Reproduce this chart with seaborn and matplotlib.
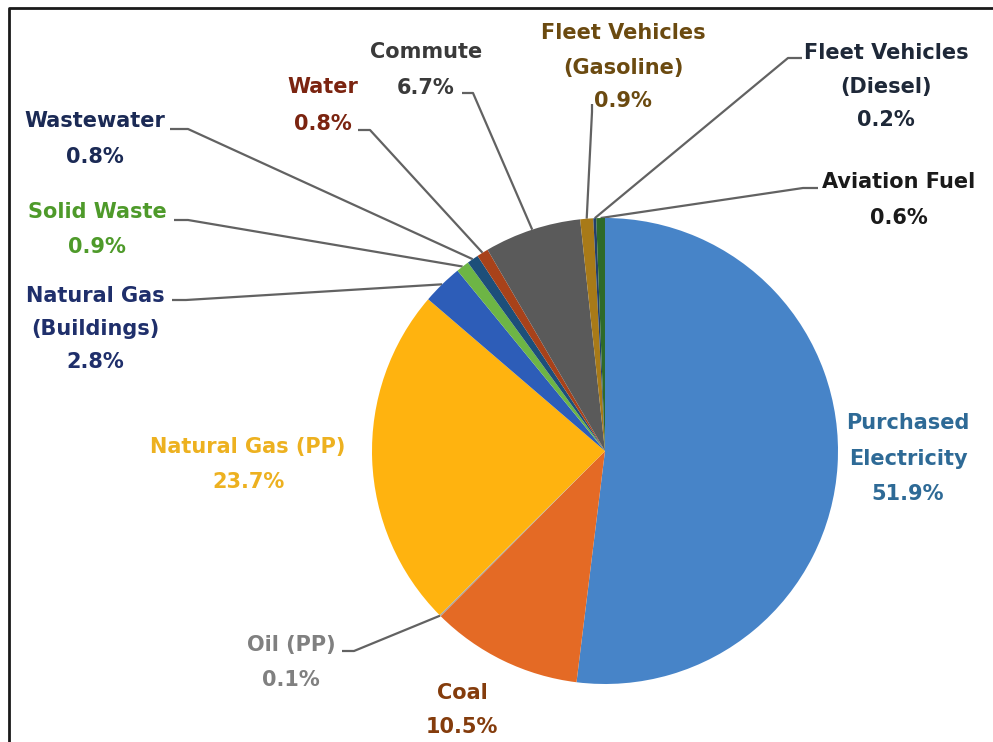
import matplotlib
matplotlib.use("Agg")
import numpy as np
import matplotlib.pyplot as plt
import seaborn as sns

# Emission shares by source (%)
categories = [
    "Purchased Electricity", "Coal", "Oil (PP)", "Natural Gas (PP)",
    "Natural Gas (Buildings)", "Solid Waste", "Wastewater", "Water",
    "Commute", "Fleet Vehicles (Gasoline)", "Fleet Vehicles (Diesel)",
    "Aviation Fuel",
]
shares = [51.9, 10.5, 0.1, 23.7, 2.8, 0.9, 0.8, 0.8, 6.7, 0.9, 0.2, 0.6]
label_lines = [
    ["Purchased", "Electricity"], ["Coal"], ["Oil (PP)"], ["Natural Gas (PP)"],
    ["Natural Gas", "(Buildings)"], ["Solid Waste"], ["Wastewater"], ["Water"],
    ["Commute"], ["Fleet Vehicles", "(Gasoline)"], ["Fleet Vehicles", "(Diesel)"],
    ["Aviation Fuel"],
]

wedge_colors = ["#4784C8", "#E46A25", "#A5A5A5", "#FFB30F", "#2D5DB8", "#6DB545",
                "#1D4F7A", "#A8421A", "#5A5A5A", "#A87A18", "#223F6B", "#2E6A2A"]
text_colors = ["#2E6A96", "#843C0C", "#808080", "#EDB120", "#1F2F6B", "#4E9A2A",
               "#1B2A55", "#7B2410", "#3A3A3A", "#6B4A10", "#1E2838", "#1A1A1A"]

# Label layout in pixel space: x centre, y centre of each line (name lines + value line),
# and leader (anchor, elbow) where the label sits away from its wedge.
W, H = 993, 742
label_x = [908, 462, 291, 248, 95, 97, 95, 323, 426, 623, 886, 899]
label_y = [[423, 459, 494], [693, 727], [645, 680], [447, 482], [296, 329, 362],
           [212, 247], [121, 157], [87, 124], [52, 88], [33, 68, 101],
           [53, 87, 120], [182, 218]]
leaders = [None, None, ((342, 651), (354, 651)), None, ((172, 300), (186, 300)),
           ((174, 220), (188, 220)), ((170, 129), (188, 129)), ((358, 130), (370, 130)),
           ((462, 93), (473, 93)), ((592, 104), (592, 112)), ((802, 58), (788, 58)),
           ((818, 188), (803, 188))]

CX, CY, R = 605, 451, 233

sns.set_theme(style="white")
plt.rcParams["font.family"] = ["DejaVu Sans"]
palette = sns.color_palette(wedge_colors)

fig = plt.figure(figsize=(W / 100, H / 100), dpi=100)
ax = fig.add_axes([0, 0, 1, 1])


def up(y):
    return H - y


wedges, _ = ax.pie(shares, colors=palette, startangle=90, counterclock=False,
                   center=(CX, up(CY)), radius=R, frame=True,
                   wedgeprops=dict(linewidth=0))

for i, wdg in enumerate(wedges):
    lines = label_lines[i] + [f"{shares[i]:.1f}%"]
    for txt, y in zip(lines, label_y[i]):
        ax.text(label_x[i], up(y), txt, ha="center", va="center",
                fontsize=15, fontweight="bold", color=text_colors[i])
    if leaders[i] is not None:
        mid = np.deg2rad((wdg.theta1 + wdg.theta2) / 2)
        ex, ey = CX + R * np.cos(mid), up(CY) + R * np.sin(mid)
        (ax0, ay0), (bx, by) = leaders[i]
        ax.plot([ax0, bx, ex], [up(ay0), up(by), ey], color="#626262",
                linewidth=1.6, solid_capstyle="butt", zorder=0.5)

# Border frame
ax.plot([9, 9, W], [0, up(8), up(8)], color="#1A1A1A", linewidth=2, clip_on=False)

ax.set_xlim(0, W)
ax.set_ylim(0, H)
ax.set_aspect("auto")
ax.axis("off")
fig.savefig("out.png", dpi=100)
